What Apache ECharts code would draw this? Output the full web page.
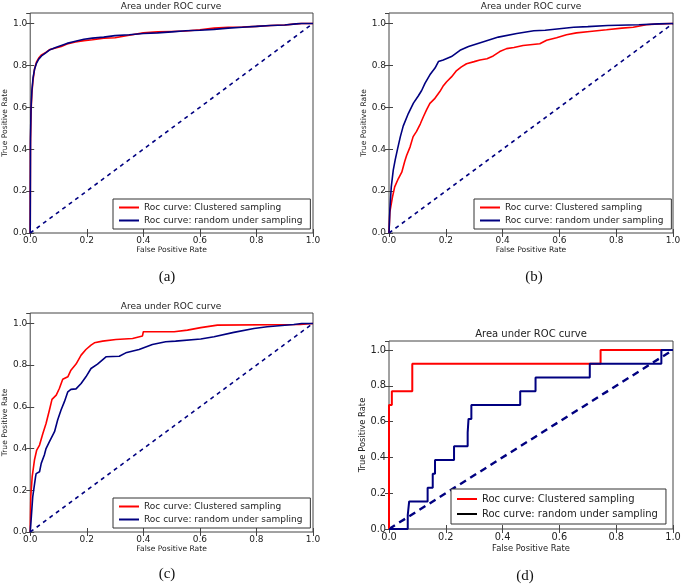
<!DOCTYPE html>
<html>
<head>
<meta charset="utf-8">
<script src="https://cdn.jsdelivr.net/npm/echarts@6/dist/echarts.min.js"></script>
<style>
  html, body { margin: 0; padding: 0; background: #fff; }
  #chart { width: 685px; height: 585px; }
</style>
</head>
<body>
<div id="chart"></div>
<script>
// ROC points [fpr, tpr]
const aClustered = [[0,0],[0.001,0.42],[0.003,0.58],[0.006,0.67],[0.01,0.73],[0.015,0.78],[0.022,0.815],[0.03,0.835],[0.04,0.85],[0.055,0.862],[0.07,0.876],[0.09,0.883],[0.11,0.89],[0.13,0.902],[0.16,0.912],[0.19,0.918],[0.22,0.922],[0.26,0.93],[0.3,0.932],[0.35,0.944],[0.4,0.955],[0.45,0.96],[0.5,0.962],[0.55,0.964],[0.6,0.97],[0.65,0.978],[0.7,0.982],[0.75,0.983],[0.8,0.986],[0.85,0.99],[0.9,0.993],[0.94,0.998],[0.96,1.0],[1,1]];
const aRandom = [[0,0],[0.001,0.45],[0.003,0.6],[0.006,0.68],[0.01,0.74],[0.015,0.78],[0.022,0.81],[0.03,0.83],[0.04,0.845],[0.055,0.86],[0.07,0.875],[0.09,0.885],[0.11,0.895],[0.13,0.905],[0.16,0.915],[0.19,0.925],[0.22,0.93],[0.26,0.935],[0.3,0.942],[0.35,0.946],[0.4,0.952],[0.45,0.955],[0.5,0.96],[0.55,0.965],[0.6,0.968],[0.65,0.972],[0.7,0.978],[0.75,0.982],[0.8,0.986],[0.85,0.99],[0.9,0.993],[0.94,0.998],[0.96,1.0],[1,1]];

const bClustered = [[0,0],[0.003,0.1],[0.012,0.17],[0.02,0.22],[0.033,0.26],[0.045,0.29],[0.055,0.34],[0.062,0.37],[0.074,0.41],[0.085,0.46],[0.097,0.485],[0.11,0.52],[0.121,0.555],[0.133,0.59],[0.144,0.619],[0.16,0.64],[0.179,0.675],[0.19,0.7],[0.203,0.722],[0.22,0.745],[0.238,0.775],[0.255,0.793],[0.273,0.808],[0.3,0.818],[0.32,0.826],[0.345,0.832],[0.367,0.845],[0.39,0.866],[0.414,0.88],[0.44,0.885],[0.472,0.895],[0.531,0.903],[0.555,0.92],[0.59,0.932],[0.625,0.946],[0.66,0.955],[0.707,0.962],[0.766,0.97],[0.82,0.978],[0.86,0.982],[0.906,0.994],[0.95,0.998],[1,1]];
const bRandom = [[0,0],[0.003,0.11],[0.008,0.22],[0.015,0.3],[0.022,0.35],[0.03,0.4],[0.04,0.46],[0.05,0.51],[0.068,0.57],[0.086,0.62],[0.103,0.654],[0.115,0.68],[0.127,0.715],[0.144,0.755],[0.162,0.787],[0.174,0.818],[0.191,0.826],[0.22,0.842],[0.25,0.872],[0.28,0.89],[0.33,0.912],[0.385,0.935],[0.45,0.952],[0.51,0.965],[0.55,0.968],[0.6,0.975],[0.65,0.982],[0.7,0.985],[0.77,0.99],[0.88,0.994],[0.95,0.998],[1,1]];

const cClustered = [[0,0],[0.002,0.17],[0.007,0.265],[0.015,0.345],[0.023,0.393],[0.033,0.417],[0.045,0.473],[0.056,0.52],[0.068,0.585],[0.077,0.636],[0.092,0.656],[0.103,0.688],[0.115,0.732],[0.133,0.744],[0.144,0.776],[0.162,0.805],[0.18,0.848],[0.197,0.875],[0.215,0.896],[0.227,0.907],[0.256,0.915],[0.303,0.923],[0.362,0.928],[0.397,0.94],[0.4,0.96],[0.509,0.96],[0.556,0.968],[0.603,0.98],[0.662,0.992],[0.955,0.995],[0.96,1.0],[1,1]];
const cRandom = [[0,0],[0.004,0.073],[0.009,0.17],[0.019,0.265],[0.021,0.28],[0.033,0.289],[0.039,0.329],[0.05,0.369],[0.056,0.4],[0.068,0.433],[0.086,0.481],[0.097,0.537],[0.109,0.585],[0.121,0.625],[0.133,0.672],[0.144,0.684],[0.162,0.686],[0.18,0.712],[0.197,0.744],[0.215,0.784],[0.238,0.805],[0.268,0.84],[0.315,0.843],[0.338,0.859],[0.385,0.875],[0.432,0.899],[0.479,0.912],[0.514,0.915],[0.603,0.925],[0.65,0.936],[0.72,0.957],[0.791,0.976],[0.838,0.984],[0.932,0.995],[0.96,1.0],[1,1]];

// panel (d) is a small test set, drawn as steps
const dClustered = [[0,0],[0,0.692],[0.01,0.769],[0.082,0.923],[0.745,1.0],[1,1]];
const dRandom = [[0,0],[0.066,0.077],[0.071,0.154],[0.136,0.231],[0.154,0.308],[0.162,0.385],[0.229,0.462],[0.277,0.538],[0.28,0.615],[0.29,0.692],[0.462,0.769],[0.516,0.846],[0.707,0.923],[0.959,1.0],[1,1]];

const chance = [[0,0],[1,1]];
const yTicks = [0, 0.2, 0.4, 0.6, 0.8, 1.0];
const panelTags = ['(a)', '(b)', '(c)', '(d)'];

const FONT = 'DejaVu Sans';
const RED = '#ff0000';
const NAVY = '#000080';
const FRAME = '#444';

const panels = [
  {id: 'a', grid: {left: 29, top: 13, width: 284, height: 220}, fs: 7.6, tfs: 9, title: 9, leg: 9, legLeft: 113, legTop: 199, tag: [167, 270], yGap: 18, xGap: 13, lw: 1.6, step: false, clustered: aClustered, random: aRandom},
  {id: 'b', grid: {left: 389, top: 13, width: 284, height: 220}, fs: 7.6, tfs: 9, title: 9, leg: 9, legLeft: 474, legTop: 199, tag: [534, 270], yGap: 18, xGap: 13, lw: 1.6, step: false, clustered: bClustered, random: bRandom},
  {id: 'c', grid: {left: 29, top: 313, width: 284, height: 219}, fs: 7.6, tfs: 9, title: 9, leg: 9, legLeft: 113, legTop: 498, tag: [167, 567], yGap: 18, xGap: 13, lw: 1.6, step: false, clustered: cClustered, random: cRandom},
  {id: 'd', grid: {left: 389, top: 341, width: 284, height: 188}, fs: 8.4, tfs: 9.8, title: 10, leg: 10, legLeft: 451, legTop: 489, tag: [525, 569], yGap: 22, xGap: 16, lw: 2, step: true, clustered: dClustered, random: dRandom}
];

const fmt = v => (yTicks.some(t => Math.abs(t - v) < 1e-6) ? v.toFixed(1) : '');

const grid = [], xAxis = [], yAxis = [], series = [], legend = [], title = [];

panels.forEach((p, i) => {
  grid.push(Object.assign({show: true, borderColor: FRAME, borderWidth: 1, backgroundColor: '#fff'}, p.grid));

  const tick = {show: true, inside: true, length: 4, lineStyle: {color: FRAME, width: 1}};
  const lbl = {fontFamily: FONT, fontSize: p.tfs, color: '#222', formatter: fmt};

  xAxis.push({
    gridIndex: i, type: 'value', min: 0, max: 1, interval: 0.2,
    name: 'False Positive Rate', nameLocation: 'middle', nameGap: p.xGap,
    nameTextStyle: {fontFamily: FONT, fontSize: p.fs, color: '#222'},
    axisLine: {show: false}, axisTick: tick, splitLine: {show: false},
    axisLabel: Object.assign({margin: 3}, lbl)
  });
  xAxis.push({
    gridIndex: i, type: 'value', position: 'top', min: 0, max: 1, interval: 0.2,
    axisLine: {show: false}, axisTick: tick, splitLine: {show: false}, axisLabel: {show: false}
  });
  yAxis.push({
    gridIndex: i, type: 'value', min: 0, max: 1.05, interval: 0.2,
    name: 'True Positive Rate', nameLocation: 'middle', nameGap: p.yGap,
    nameTextStyle: {fontFamily: FONT, fontSize: p.fs, color: '#222'},
    axisLine: {show: false}, axisTick: tick, splitLine: {show: false},
    axisLabel: Object.assign({margin: 3, showMaxLabel: false}, lbl)
  });
  yAxis.push({
    gridIndex: i, type: 'value', position: 'right', min: 0, max: 1.05, interval: 0.2,
    axisLine: {show: false}, axisTick: tick, splitLine: {show: false}, axisLabel: {show: false}
  });

  const nC = p.id + ': Roc curve: Clustered sampling';
  const nR = p.id + ': Roc curve: random under sampling';

  series.push({
    name: p.id + ': chance', type: 'line', xAxisIndex: 2 * i, yAxisIndex: 2 * i,
    data: chance, showSymbol: false, silent: true,
    lineStyle: {color: NAVY, width: p.step ? 2.4 : 1.6, type: p.step ? [7, 5] : [4, 4]}
  });
  series.push({
    name: nC, type: 'line', xAxisIndex: 2 * i, yAxisIndex: 2 * i,
    data: p.clustered, showSymbol: false, step: p.step ? 'end' : false,
    lineStyle: {color: RED, width: p.lw}, itemStyle: {color: RED}
  });
  series.push({
    name: nR, type: 'line', xAxisIndex: 2 * i, yAxisIndex: 2 * i,
    data: p.random, showSymbol: false, step: p.step ? 'end' : false,
    lineStyle: {color: NAVY, width: p.lw}, itemStyle: {color: p.step ? '#000' : NAVY}
  });

  const padY = p.id === 'd' ? 5 : 4;
  legend.push({
    data: [nC, nR], orient: 'vertical', left: p.legLeft, top: p.legTop,
    icon: 'rect', itemWidth: 20, itemHeight: 2, itemGap: padY,
    padding: [padY, 8, padY, 6], borderColor: '#333', borderWidth: 1, backgroundColor: '#fff',
    textStyle: {fontFamily: FONT, fontSize: p.leg, color: '#222'},
    formatter: n => n.slice(3), selectedMode: false
  });

  title.push({
    text: 'Area under ROC curve', left: p.grid.left + p.grid.width / 2, textAlign: 'center',
    top: p.grid.top - p.title - 2, padding: 0,
    textStyle: {fontFamily: FONT, fontSize: p.title, fontWeight: 'normal', color: '#222'}
  });
  title.push({
    text: panelTags[i], left: p.tag[0], top: p.tag[1], textAlign: 'center', padding: 0,
    textStyle: {fontFamily: 'Liberation Serif', fontSize: 15, fontWeight: 'normal', color: '#111'}
  });
});

const chart = echarts.init(document.getElementById('chart'), null, {renderer: 'canvas'});
chart.setOption({
  animation: false,
  title: title,
  grid: grid,
  xAxis: xAxis,
  yAxis: yAxis,
  legend: legend,
  series: series
});
</script>
</body>
</html>
